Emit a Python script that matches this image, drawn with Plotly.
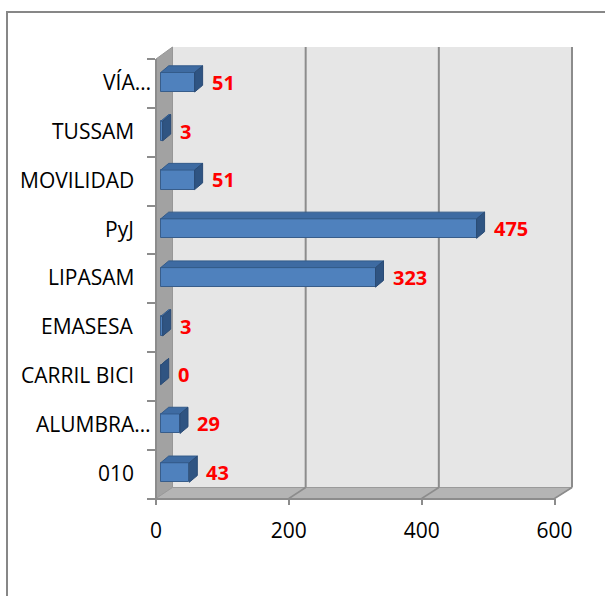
import plotly.graph_objects as go

# ---------------- data ----------------
categories = ["010", "ALUMBRA…", "CARRIL BICI", "EMASESA", "LIPASAM", "PyJ", "MOVILIDAD", "TUSSAM", "VÍA…"]
values = [43, 29, 0, 3, 323, 475, 51, 3, 51]
x_ticks = [0, 200, 400, 600]

# ---------------- geometry (pixels) ----------------
W, H = 605, 596
BAR_X0 = 160.7            # pixel of value 0 on the bars' front plane
PX_PER_UNIT = 399.0 / 600
Y0 = 472.5                # pixel centre of first category on bars' front plane
BAND = 48.78              # pixels per category
BAR_W = 0.40
DEPTH_DX, DEPTH_DY = 8.0, 6.7

FRONT_L, FRONT_R, FRONT_B, FRONT_T = 156.0, 554.5, 498.5, 59.0
BACK_L, BACK_R, BACK_B, BACK_T = 172.5, 572.0, 487.5, 47.0

ux = 1.0 / PX_PER_UNIT


def X(px):
    return (px - BAR_X0) * ux


def Y(py):
    return (Y0 - py) / BAND


FONT = "Open Sans"
n = len(categories)
idx = list(range(n))

fig = go.Figure()

# front faces of bars
fig.add_trace(go.Bar(
    x=values, y=idx, orientation="h", width=BAR_W,
    marker=dict(color="#4f81bd", line=dict(color="#385d8a", width=1)),
    hoverinfo="skip", showlegend=False,
))

# top and side faces (extrusion) derived from values
ddx = DEPTH_DX * ux
ddy = DEPTH_DY / BAND
top_x, top_y, side_x, side_y = [], [], [], []
for i, v in zip(idx, values):
    t = i + BAR_W / 2
    b = i - BAR_W / 2
    top_x += [0, v, v + ddx, ddx, 0, None]
    top_y += [t, t, t + ddy, t + ddy, t, None]
    side_x += [v, v, v + ddx, v + ddx, v, None]
    side_y += [b, t, t + ddy, b + ddy, b, None]

fig.add_trace(go.Scatter(x=top_x, y=top_y, mode="lines", fill="toself",
                         fillcolor="#3e6ba2", line=dict(color="#335b8a", width=1),
                         hoverinfo="skip", showlegend=False))
fig.add_trace(go.Scatter(x=side_x, y=side_y, mode="lines", fill="toself",
                         fillcolor="#2f5482", line=dict(color="#2a4b75", width=1),
                         hoverinfo="skip", showlegend=False))

# helper traces for the front floor axis and the left category axis
fig.add_trace(go.Scatter(x=[x_ticks[0], x_ticks[-1]], y=[0, 0], xaxis="x2", yaxis="y",
                         mode="markers", marker=dict(opacity=0), hoverinfo="skip", showlegend=False))
fig.add_trace(go.Scatter(x=[0, 0], y=[-0.5, n - 0.5], xaxis="x", yaxis="y2",
                         mode="markers", marker=dict(opacity=0), hoverinfo="skip", showlegend=False))

shapes = []
GRID = "#8c8c8c"
# back wall
shapes.append(dict(type="rect", xref="x", yref="y", layer="below",
                   x0=X(BACK_L), x1=X(BACK_R), y0=Y(BACK_B), y1=Y(BACK_T),
                   fillcolor="#e6e6e6", line=dict(width=0)))
# left wall
shapes.append(dict(type="path", xref="x", yref="y", layer="below",
                   path=f"M {X(FRONT_L)},{Y(FRONT_T)} L {X(BACK_L)},{Y(BACK_T)} L {X(BACK_L)},{Y(BACK_B)} L {X(FRONT_L)},{Y(FRONT_B)} Z",
                   fillcolor="#a2a2a2", line=dict(color="#979797", width=1)))
# floor
shapes.append(dict(type="path", xref="x", yref="y", layer="below",
                   path=f"M {X(FRONT_L)},{Y(FRONT_B)} L {X(FRONT_R)},{Y(FRONT_B)} L {X(BACK_R)},{Y(BACK_B)} L {X(BACK_L)},{Y(BACK_B)} Z",
                   fillcolor="#b4b4b4", line=dict(color="#9a9a9a", width=1)))
# gridlines on back wall and floor diagonals
for v in x_ticks:
    fx = FRONT_L + (FRONT_R - FRONT_L) * v / x_ticks[-1]
    bx = BACK_L + (BACK_R - BACK_L) * v / x_ticks[-1]
    if v > 0:
        shapes.append(dict(type="line", xref="x", yref="y", layer="below",
                           x0=X(bx), x1=X(bx), y0=Y(BACK_B), y1=Y(BACK_T),
                           line=dict(color=GRID, width=2)))
        shapes.append(dict(type="line", xref="x", yref="y", layer="below",
                           x0=X(fx), x1=X(bx), y0=Y(FRONT_B), y1=Y(BACK_B),
                           line=dict(color=GRID, width=1.5)))
# chart border
shapes.append(dict(type="path", xref="paper", yref="paper", layer="below",
                   path=f"M {7/W},-0.05 L {7/W},{1-12/H} L 1.05,{1-12/H}",
                   line=dict(color="#878787", width=2)))

annotations = []
for i, c in zip(idx, categories):
    right = 153 if c.endswith("…") else 136
    annotations.append(dict(text=c, xref="paper", yref="y", x=right / W, y=i,
                            xanchor="right", yanchor="middle", showarrow=False,
                            font=dict(family=FONT, size=21, color="#000000")))
for i, v in zip(idx, values):
    annotations.append(dict(text=str(v), xref="x", yref="y", x=v + 15 * ux, y=i,
                            xanchor="left", yanchor="middle", showarrow=False,
                            font=dict(family=FONT, size=20, color="#ff0000", weight="bold")))

fig.update_layout(
    width=W, height=H, margin=dict(l=0, r=0, t=0, b=0, pad=0, autoexpand=False),
    paper_bgcolor="#ffffff", plot_bgcolor="rgba(0,0,0,0)",
    showlegend=False, bargap=0,
    xaxis=dict(domain=[0, 1], range=[X(0), X(W)], visible=False, fixedrange=True, automargin=False),
    yaxis=dict(domain=[0, 1], range=[Y(H), Y(0)], visible=False, fixedrange=True, automargin=False),
    xaxis2=dict(domain=[FRONT_L / W, FRONT_R / W], range=[x_ticks[0], x_ticks[-1]],
                anchor="free", position=1 - FRONT_B / H, automargin=False,
                showline=True, linecolor=GRID, linewidth=1.5,
                ticks="outside", ticklen=6, tickcolor=GRID, tickwidth=1.5,
                ticklabelstandoff=8,
                tickvals=x_ticks, ticktext=[str(t) for t in x_ticks],
                tickfont=dict(family=FONT, size=21, color="#000000"),
                showgrid=False, zeroline=False, fixedrange=True),
    yaxis2=dict(domain=[1 - FRONT_B / H, 1 - FRONT_T / H], range=[-0.5, n - 0.5],
                anchor="free", position=FRONT_L / W, side="left", automargin=False,
                showline=True, linecolor=GRID, linewidth=1.5,
                ticks="outside", ticklen=8, tickcolor=GRID, tickwidth=1.5,
                tickvals=[k - 0.5 for k in range(n + 1)], showticklabels=False,
                showgrid=False, zeroline=False, fixedrange=True),
    shapes=shapes, annotations=annotations,
)

page_fix = """
document.body.style.margin='0';
document.documentElement.style.overflow='hidden';
document.body.style.overflow='hidden';
"""

fig.write_html("out.html", post_script=page_fix, config={"displayModeBar": False})
